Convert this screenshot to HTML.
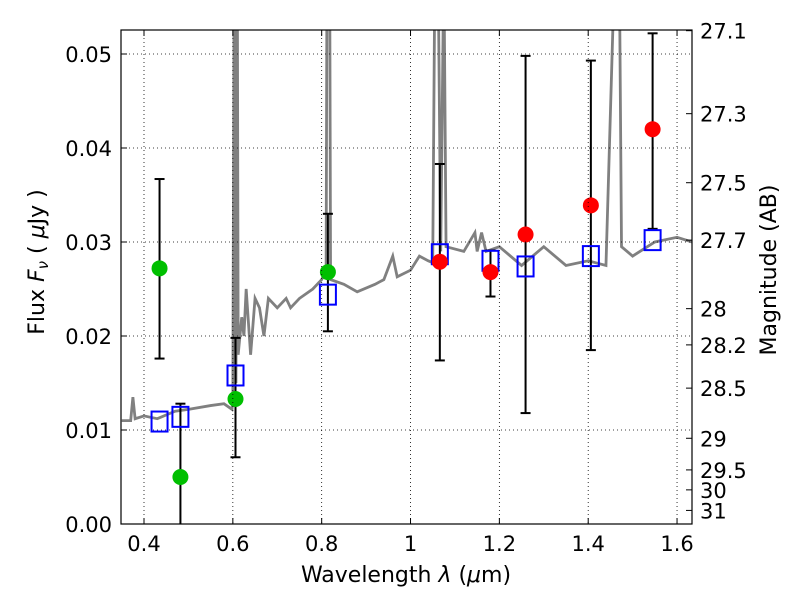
<!DOCTYPE html>
<html><head><meta charset="utf-8"><style>
body{margin:0;background:#fff}
svg text{font-family:"DejaVu Sans","Liberation Sans",sans-serif;font-size:21px;fill:#000}
svg text.title{font-size:22px}
</style></head><body>
<svg id="c" width="800" height="600"></svg>
<script>
const xTicks=[0.4,0.6,0.8,1.0,1.2,1.4,1.6];
const xTickLabels=["0.4","0.6","0.8","1","1.2","1.4","1.6"];
const yTicks=[0,0.01,0.02,0.03,0.04,0.05];
const yTickLabels=["0.00","0.01","0.02","0.03","0.04","0.05"];
const magTicks=[27.1,27.3,27.5,27.7,28,28.2,28.5,29,29.5,30,31];
const specLam=[0.35,0.37,0.375,0.38,0.40,0.43,0.47,0.50,0.55,0.58,0.598,0.600,0.603,0.607,0.61,0.612,0.62,0.625,0.63,0.64,0.65,0.66,0.67,0.68,0.70,0.72,0.73,0.75,0.78,0.80,0.81,0.812,0.818,0.82,0.85,0.88,0.92,0.94,0.96,0.97,1.0,1.02,1.04,1.05,1.055,1.062,1.068,1.075,1.08,1.12,1.145,1.15,1.16,1.17,1.20,1.25,1.30,1.35,1.40,1.44,1.46,1.47,1.475,1.50,1.55,1.60,1.634];
const specFlux=[0.011,0.011,0.0135,0.0112,0.0115,0.0112,0.012,0.0122,0.0126,0.0128,0.0122,0.013,0.06,0.015,0.06,0.018,0.022,0.02,0.025,0.018,0.024,0.023,0.020,0.024,0.023,0.024,0.023,0.024,0.025,0.026,0.027,0.06,0.06,0.026,0.0255,0.0247,0.0255,0.026,0.0285,0.0263,0.027,0.0285,0.028,0.0278,0.06,0.06,0.029,0.06,0.0295,0.029,0.031,0.029,0.031,0.029,0.0295,0.0275,0.0295,0.0275,0.028,0.0275,0.06,0.06,0.0295,0.0285,0.030,0.0305,0.030];
const obsLam=[0.435,0.482,0.606,0.814,1.066,1.18,1.259,1.406,1.545];
const obsFlux=[0.0272,0.0050,0.0133,0.0268,0.0279,0.0268,0.0308,0.0339,0.0420];
const obsLo=[0.0176,-0.01,0.0071,0.0205,0.0174,0.0242,0.0118,0.0185,0.0314];
const obsHi=[0.0367,0.0128,0.0198,0.0330,0.0383,0.0291,0.0498,0.0493,0.0522];
const obsColor=["#00bf00","#00bf00","#00bf00","#00bf00","red","red","red","red","red"];
const modelFlux=[0.0109,0.0114,0.0158,0.0244,0.0287,0.0280,0.0274,0.0285,0.0302];

const L=121,R=692,T=30,B=524;
const xs=v=>144+(v-0.4)*444.2;
const ys=f=>524-f*9400;
const svg=document.getElementById('c');const NS='http://www.w3.org/2000/svg';
function mk(t,a,p){const e=document.createElementNS(NS,t);for(const k in a)e.setAttribute(k,a[k]);(p||svg).appendChild(e);return e;}
const clip=mk('clipPath',{id:'pc'});mk('rect',{x:L,y:T,width:R-L,height:B-T},clip);
const g=mk('g',{'clip-path':'url(#pc)'});
xTicks.forEach((v,i)=>{
 const l=mk('line',{x1:xs(v),x2:xs(v),y1:T,y2:B,stroke:'#000','stroke-dasharray':'1,3','stroke-width':0.8});
 
 mk('line',{x1:xs(v),x2:xs(v),y1:B,y2:B-6,stroke:'#000'});mk('line',{x1:xs(v),x2:xs(v),y1:T,y2:T+6,stroke:'#000'});
 const t=mk('text',{x:xs(v),y:B+27,'text-anchor':'middle'});t.textContent=xTickLabels[i];
 
});
yTicks.forEach((v,i)=>{
 const l=mk('line',{x1:L,x2:R,y1:ys(v),y2:ys(v),stroke:'#000','stroke-dasharray':'1,3','stroke-width':0.8});
 
 mk('line',{x1:L,x2:L+6,y1:ys(v),y2:ys(v),stroke:'#000'});
 const t=mk('text',{x:L-9,y:ys(v)+8,'text-anchor':'end'});t.textContent=yTickLabels[i];
 
});
magTicks.forEach(m=>{
 const f=Math.pow(10,(23.9-m)/2.5);const y=ys(f);
 mk('line',{x1:R-6,x2:R,y1:y,y2:y,stroke:'#000'});
 const t=mk('text',{x:R+8,y:y+8});t.textContent=String(m);
 
});
const sp=mk('polyline',{points:specLam.map((v,i)=>xs(v)+','+ys(specFlux[i])).join(' '),fill:'none',stroke:'#808080','stroke-width':2.8},g);

obsLam.forEach((v,i)=>{
 const x=xs(v);
 const e=mk('line',{x1:x,x2:x,y1:ys(obsLo[i]),y2:ys(obsHi[i]),stroke:'#000','stroke-width':2},g);
 
 mk('line',{x1:x-5,x2:x+5,y1:ys(obsHi[i]),y2:ys(obsHi[i]),stroke:'#000','stroke-width':2},g);
 mk('line',{x1:x-5,x2:x+5,y1:ys(obsLo[i]),y2:ys(obsLo[i]),stroke:'#000','stroke-width':2},g);
});
obsLam.forEach((v,i)=>{
 const s=mk('rect',{x:xs(v)-8,y:ys(modelFlux[i])-10,width:16,height:20,fill:'none',stroke:'#0000ff','stroke-width':2},g);
 
});
obsLam.forEach((v,i)=>{
 const c=mk('circle',{cx:xs(v),cy:ys(obsFlux[i]),r:8,fill:obsColor[i]},g);
 
});
const fr=mk('rect',{x:L,y:T,width:R-L,height:B-T,fill:'none',stroke:'#000','stroke-width':1.2});

const xl=mk('text',{x:406,y:582,'text-anchor':'middle','class':'title'});xl.innerHTML='Wavelength  <tspan font-style="italic">λ</tspan> (<tspan font-style="italic">μ</tspan>m)';

const yl=mk('text',{x:44,y:262,'text-anchor':'middle','class':'title',transform:'rotate(-90 44 262)'});yl.innerHTML='Flux  <tspan font-style="italic">F</tspan><tspan font-size="15" dy="4" font-style="italic">ν</tspan><tspan dy="-4">  (  <tspan font-style="italic">μ</tspan>Jy )</tspan>';

const rl=mk('text',{x:776,y:270,'text-anchor':'middle','class':'title',transform:'rotate(-90 776 270)'});rl.textContent='Magnitude (AB)';

</script>
</body></html>
